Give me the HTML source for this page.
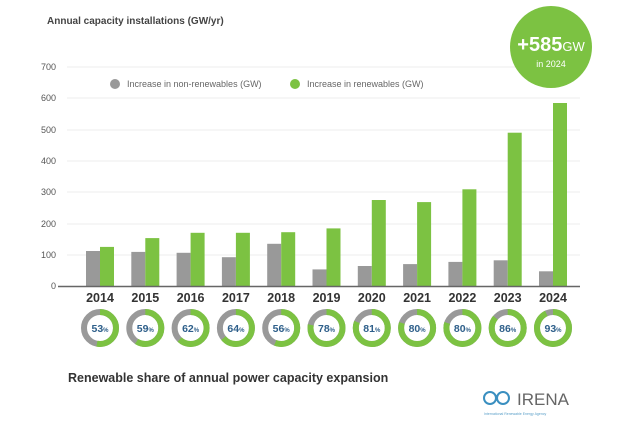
<!DOCTYPE html>
<html><head><meta charset="utf-8"><style>
html,body{margin:0;padding:0;background:#fff;}
svg{display:block;font-family:"Liberation Sans",sans-serif;}
</style></head><body>
<svg width="639" height="429" viewBox="0 0 639 429" xmlns="http://www.w3.org/2000/svg">
<text x="47" y="24" font-size="10" font-weight="bold" fill="#444">Annual capacity installations (GW/yr)</text>
<g stroke="#eee" stroke-width="1">
<line x1="67" y1="67" x2="580" y2="67"/><line x1="67" y1="98" x2="580" y2="98"/><line x1="67" y1="130" x2="580" y2="130"/>
<line x1="67" y1="161" x2="580" y2="161"/><line x1="67" y1="192" x2="580" y2="192"/><line x1="67" y1="224" x2="580" y2="224"/><line x1="67" y1="255" x2="580" y2="255"/>
</g>
<g font-size="9" fill="#555" text-anchor="end">
<text x="56" y="70">700</text><text x="56" y="101">600</text><text x="56" y="133">500</text><text x="56" y="164">400</text><text x="56" y="195">300</text><text x="56" y="227">200</text><text x="56" y="258">100</text><text x="56" y="289">0</text>
</g>
<circle cx="115" cy="84" r="5" fill="#999"/><text x="127" y="87" font-size="9" fill="#666">Increase in non-renewables (GW)</text>
<circle cx="295" cy="84" r="5" fill="#7cc242"/><text x="307" y="87" font-size="9" fill="#666">Increase in renewables (GW)</text>
<g fill="#999">
<rect x="86" y="251" width="14" height="35"/>
<rect x="131.3" y="251.9" width="14" height="34.1"/>
<rect x="176.6" y="252.8" width="14" height="33.2"/>
<rect x="221.9" y="257.2" width="14" height="28.8"/>
<rect x="267.2" y="243.8" width="14" height="42.2"/>
<rect x="312.5" y="269.4" width="14" height="16.6"/>
<rect x="357.8" y="266" width="14" height="20"/>
<rect x="403.1" y="264.1" width="14" height="21.9"/>
<rect x="448.4" y="261.9" width="14" height="24.1"/>
<rect x="493.7" y="260.3" width="14" height="25.7"/>
<rect x="539" y="271.3" width="14" height="14.7"/>
</g>
<g fill="#7cc242">
<rect x="100" y="246.9" width="14" height="39.1"/>
<rect x="145.3" y="238.1" width="14" height="47.9"/>
<rect x="190.6" y="232.8" width="14" height="53.2"/>
<rect x="235.9" y="232.8" width="14" height="53.2"/>
<rect x="281.2" y="232.2" width="14" height="53.8"/>
<rect x="326.5" y="228.4" width="14" height="57.6"/>
<rect x="371.8" y="200" width="14" height="86"/>
<rect x="417.1" y="202.1" width="14" height="83.9"/>
<rect x="462.4" y="189.3" width="14" height="96.7"/>
<rect x="507.7" y="132.7" width="14" height="153.3"/>
<rect x="553" y="103" width="14" height="183"/>
</g>
<line x1="58" y1="286.5" x2="580" y2="286.5" stroke="#666" stroke-width="1.5"/>
<g font-size="12.5" font-weight="bold" fill="#333" text-anchor="middle">
<text x="100" y="302">2014</text><text x="145.3" y="302">2015</text><text x="190.6" y="302">2016</text><text x="235.9" y="302">2017</text><text x="281.2" y="302">2018</text><text x="326.5" y="302">2019</text><text x="371.8" y="302">2020</text><text x="417.1" y="302">2021</text><text x="462.4" y="302">2022</text><text x="507.7" y="302">2023</text><text x="553" y="302">2024</text>
</g>
<g fill="none" stroke="#999" stroke-width="6">
<circle cx="100" cy="328" r="16"/><circle cx="145.3" cy="328" r="16"/><circle cx="190.6" cy="328" r="16"/><circle cx="235.9" cy="328" r="16"/><circle cx="281.2" cy="328" r="16"/><circle cx="326.5" cy="328" r="16"/><circle cx="371.8" cy="328" r="16"/><circle cx="417.1" cy="328" r="16"/><circle cx="462.4" cy="328" r="16"/><circle cx="507.7" cy="328" r="16"/><circle cx="553" cy="328" r="16"/>
</g>
<g fill="none" stroke="#7cc242" stroke-width="6">
<circle cx="100" cy="328" r="16" stroke-dasharray="53.28 200" transform="rotate(-90 100 328)"/>
<circle cx="145.3" cy="328" r="16" stroke-dasharray="59.31 200" transform="rotate(-90 145.3 328)"/>
<circle cx="190.6" cy="328" r="16" stroke-dasharray="62.33 200" transform="rotate(-90 190.6 328)"/>
<circle cx="235.9" cy="328" r="16" stroke-dasharray="64.34 200" transform="rotate(-90 235.9 328)"/>
<circle cx="281.2" cy="328" r="16" stroke-dasharray="56.3 200" transform="rotate(-90 281.2 328)"/>
<circle cx="326.5" cy="328" r="16" stroke-dasharray="78.41 200" transform="rotate(-90 326.5 328)"/>
<circle cx="371.8" cy="328" r="16" stroke-dasharray="81.43 200" transform="rotate(-90 371.8 328)"/>
<circle cx="417.1" cy="328" r="16" stroke-dasharray="80.42 200" transform="rotate(-90 417.1 328)"/>
<circle cx="462.4" cy="328" r="16" stroke-dasharray="80.42 200" transform="rotate(-90 462.4 328)"/>
<circle cx="507.7" cy="328" r="16" stroke-dasharray="86.46 200" transform="rotate(-90 507.7 328)"/>
<circle cx="553" cy="328" r="16" stroke-dasharray="93.49 200" transform="rotate(-90 553 328)"/>
</g>
<g text-anchor="middle" fill="#2e5f8a" font-weight="bold" font-size="10.5">
<text x="100" y="332">53<tspan font-size="6">%</tspan></text>
<text x="145.3" y="332">59<tspan font-size="6">%</tspan></text>
<text x="190.6" y="332">62<tspan font-size="6">%</tspan></text>
<text x="235.9" y="332">64<tspan font-size="6">%</tspan></text>
<text x="281.2" y="332">56<tspan font-size="6">%</tspan></text>
<text x="326.5" y="332">78<tspan font-size="6">%</tspan></text>
<text x="371.8" y="332">81<tspan font-size="6">%</tspan></text>
<text x="417.1" y="332">80<tspan font-size="6">%</tspan></text>
<text x="462.4" y="332">80<tspan font-size="6">%</tspan></text>
<text x="507.7" y="332">86<tspan font-size="6">%</tspan></text>
<text x="553" y="332">93<tspan font-size="6">%</tspan></text>
</g>
<circle cx="551" cy="47" r="41" fill="#7cc242"/>
<text x="551" y="51" text-anchor="middle" fill="#fff"><tspan font-size="20" font-weight="bold">+585</tspan><tspan font-size="13">GW</tspan></text>
<text x="551" y="67" text-anchor="middle" fill="#fff" font-size="9">in 2024</text>
<text x="68" y="382" font-size="12.5" font-weight="bold" fill="#333">Renewable share of annual power capacity expansion</text>
<circle cx="490" cy="398" r="6" fill="none" stroke="#3a8fc0" stroke-width="2"/>
<circle cx="503" cy="398" r="6" fill="none" stroke="#3a8fc0" stroke-width="2"/>
<text x="517" y="405" font-size="17" fill="#666">IRENA</text>
<text x="484" y="415" font-size="3.5" fill="#5a9fc8">International Renewable Energy Agency</text>
</svg>
</body></html>
